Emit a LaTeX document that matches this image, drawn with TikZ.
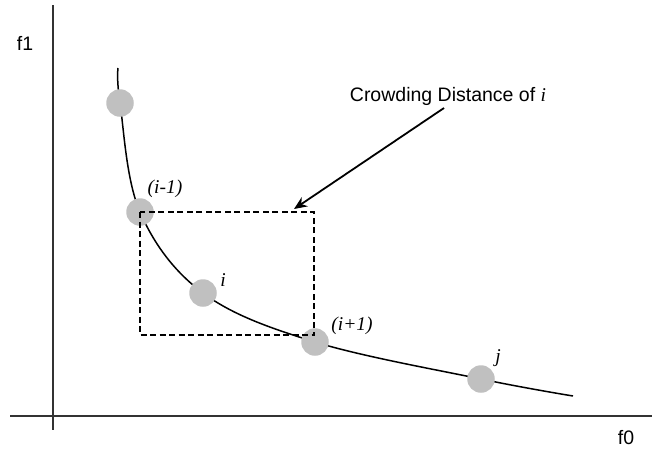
\documentclass[tikz,border=0pt]{standalone}
\usepackage{fontspec}
\setmainfont{Liberation Serif}
\setsansfont{Liberation Sans}
\definecolor{mAxis}{HTML}{333333}
\definecolor{mPoint}{HTML}{C0C0C0}
\usetikzlibrary{positioning,arrows.meta}

\begin{document}
\begin{tikzpicture}[x=1pt, y=-1pt, font=\fontsize{19.5}{23}\selectfont\sffamily,
  pt/.style={circle, fill=mPoint, minimum size=27.5pt, inner sep=0pt},
  lbl/.style={font=\fontsize{19.5}{23}\selectfont\rmfamily\itshape, inner sep=0pt}]
\useasboundingbox (0,0) rectangle (652,458);
% axes
\draw[mAxis, line width=1.6pt] (53,5) -- (53,430);
\draw[mAxis, line width=1.6pt] (10,416) -- (652,416);
\node (yl) at (25,43) {f1};
\node (xl) at (626,438) {f0};
% front
\draw[line width=1.5pt] plot[smooth, tension=0.6] coordinates {(118,68) (120,103) (140,212) (203,293) (315,342) (481,379) (573,396)};
\node[pt] (p0) at (120,103) {};
\node[pt] (im) at (140,212) {};
\node[pt] (i) at (203,293) {};
\node[pt] (ip) at (315,342) {};
\node[pt] (j) at (481,379) {};
\node[lbl] (lim) at (165,189) {(i-1)};
\node[lbl] (li) at (223,280) {i};
\node[lbl] (lip) at (352,326) {(i+1)};
\node[lbl] (lj) at (498,358) {j};
% cuboid around i
\draw[line width=2pt, dash pattern=on 6pt off 3.5pt] (im.center) rectangle (314,335);
\coordinate (tip) at (294,209);
\node (cd) at (448,96) {Crowding Distance of {\rmfamily\itshape i}};
\coordinate (foot) at (444,108);
\draw[-{Stealth[length=13pt,width=11pt]}, line width=1.8pt] (foot) -- (tip);
\end{tikzpicture}
\end{document}
